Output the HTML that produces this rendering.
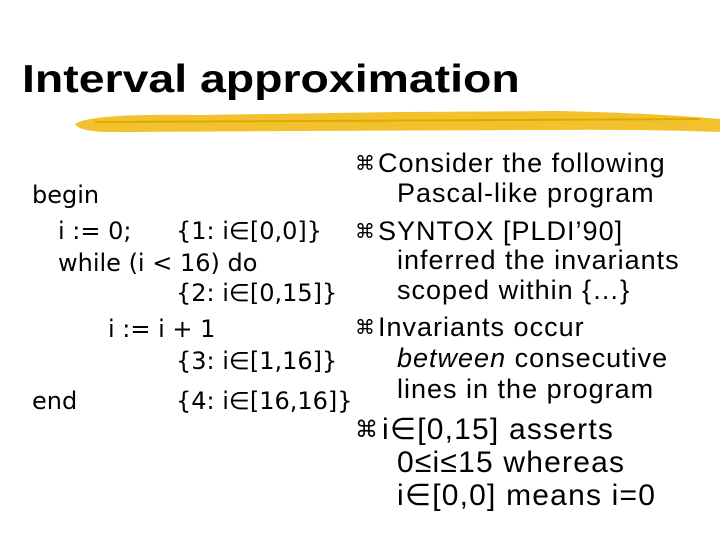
<!DOCTYPE html>
<html><head><meta charset="utf-8"><style>
body{margin:0;width:720px;height:540px;background:#fff;position:relative;overflow:hidden;font-family:"Liberation Sans",sans-serif;color:#000}
.t{position:absolute;white-space:nowrap;line-height:30px}
.c{font-family:"DejaVu Sans",sans-serif;font-size:24px}
.r{font-size:27px;letter-spacing:1px}
.b{font-size:30px;letter-spacing:1.2px}
.bul{position:absolute;font-family:"DejaVu Sans",sans-serif;font-size:20px;line-height:30px}
</style></head><body>
<div class="t" style="left:22px;top:58px;font-size:39px;font-weight:bold;line-height:44px;transform:scaleX(1.19);transform-origin:0 0">Interval approximation</div>
<svg style="position:absolute;left:0;top:0" width="720" height="540">
<path d="M75 124 Q90 113 200 115 L400 112 L560 111 Q650 113 720 119 L720 132 Q640 129 540 130 L300 131 L120 132 Q80 133 75 124Z" fill="#f2c12e"/>
<path d="M95 122 L700 119" stroke="#e0a800" stroke-width="2"/>
</svg>
<div class="t c" style="left:32px;top:180px">begin</div>
<div class="t c" style="left:58px;top:216px">i := 0;</div>
<div class="t c" style="left:176px;top:216px">{1: i∈[0,0]}</div>
<div class="t c" style="left:58px;top:248px">while (i &lt; 16) do</div>
<div class="t c" style="left:176px;top:278px">{2: i∈[0,15]}</div>
<div class="t c" style="left:108px;top:314px">i := i + 1</div>
<div class="t c" style="left:176px;top:346px">{3: i∈[1,16]}</div>
<div class="t c" style="left:32px;top:386px">end</div>
<div class="t c" style="left:176px;top:386px">{4: i∈[16,16]}</div>

<div class="bul" style="left:355px;top:148px">⌘</div>
<div class="t r" style="left:378px;top:148px">Consider the following</div>
<div class="t r" style="left:397px;top:178px">Pascal-like program</div>
<div class="bul" style="left:355px;top:216px">⌘</div>
<div class="t r" style="left:378px;top:216px">SYNTOX [PLDI’90]</div>
<div class="t r" style="left:397px;top:245px">inferred the invariants</div>
<div class="t r" style="left:397px;top:275px">scoped within {…}</div>
<div class="bul" style="left:355px;top:312px">⌘</div>
<div class="t r" style="left:378px;top:312px">Invariants occur</div>
<div class="t r" style="left:397px;top:343px"><i>between</i> consecutive</div>
<div class="t r" style="left:397px;top:374px">lines in the program</div>
<div class="bul" style="left:355px;top:415px;font-size:23px">⌘</div>
<div class="t b" style="left:382px;top:415px">i∈[0,15] asserts</div>
<div class="t b" style="left:397px;top:448px">0≤i≤15 whereas</div>
<div class="t b" style="left:397px;top:481px">i∈[0,0] means i=0</div>
</body></html>
